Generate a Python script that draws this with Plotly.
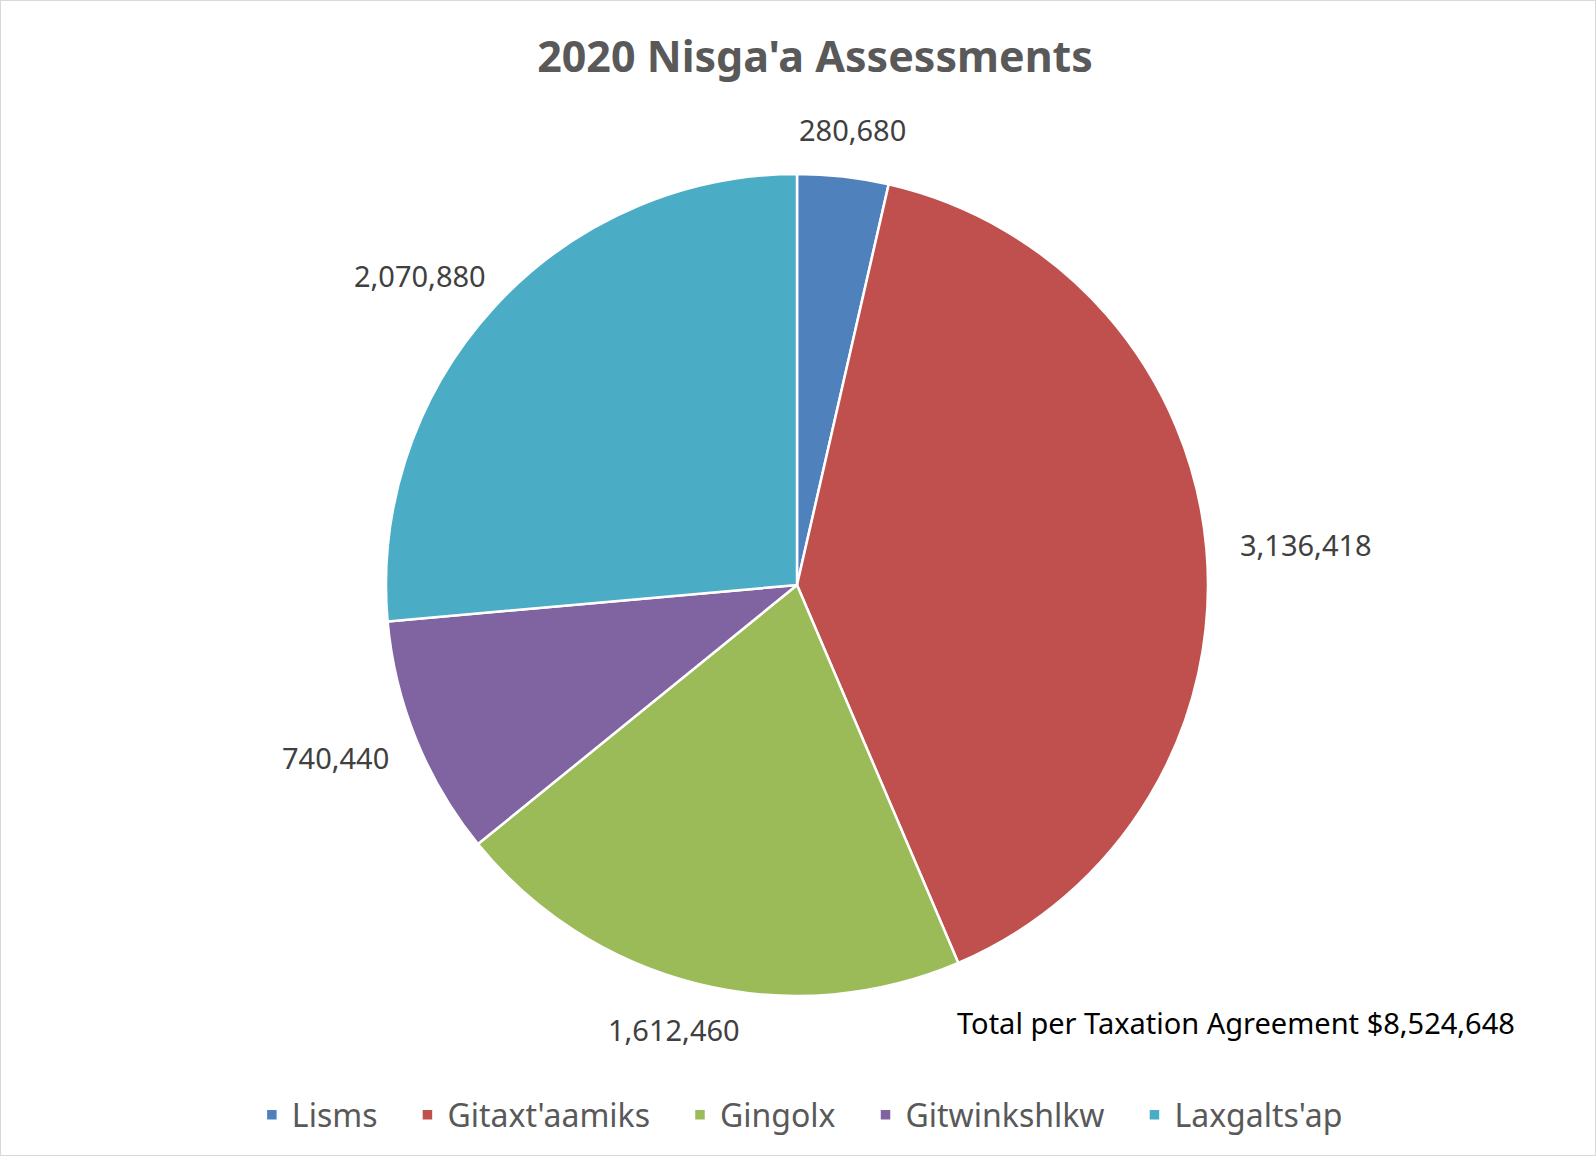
import math
import plotly.graph_objects as go

communities = ["Lisms", "Gitaxt'aamiks", "Gingolx", "Gitwinkshlkw", "Laxgalts'ap"]
assessments = [280680, 3136418, 1612460, 740440, 2070880]
colors = ["#4F81BD", "#C0504D", "#9BBB59", "#8064A2", "#4BACC6"]
title_text = "2020 Nisga'a Assessments"
total_note = "Total per Taxation Agreement $8,524,648"

W, H = 1596, 1156
cx, cy, r = 797, 585, 411
label_size = 29
gap = 34
legend_pad = "&nbsp;" * 3

fig = go.Figure(go.Pie(
    labels=[c + legend_pad for c in communities],
    values=assessments,
    customdata=communities,
    sort=False,
    direction="clockwise",
    rotation=0,
    marker=dict(colors=colors, line=dict(color="white", width=2.5)),
    textinfo="none",
    domain=dict(x=[(cx - r) / W, (cx + r) / W], y=[1 - (cy + r) / H, 1 - (cy - r) / H]),
    hovertemplate="%{customdata}<br>%{value:,}<br>%{percent}<extra></extra>",
))

# data labels placed outside each slice, at the slice's mid-angle
annotations = []
total = sum(assessments)
cum = 0
for v in assessments:
    mid = (cum + v / 2) / total * 2 * math.pi
    cum += v
    ux, uy = math.sin(mid), -math.cos(mid)
    txt = f"{v:,}"
    w = sum(0.26 if ch == "," else 0.572 for ch in txt) * label_size
    h = 26
    px = cx + (r + gap) * ux + w / 2 * ux
    py = cy + (r + gap) * uy + h / 2 * uy
    annotations.append(dict(text=txt, x=px / W, y=1 - py / H, xref="paper", yref="paper",
                            showarrow=False, xanchor="center", yanchor="middle",
                            font=dict(family="Noto Sans", size=label_size, color="#404040")))

annotations.append(dict(text=total_note, x=1236 / W, y=1 - 1022 / H, xref="paper", yref="paper",
                        showarrow=False, xanchor="center", yanchor="middle",
                        font=dict(family="Noto Sans", size=29, color="black")))

fig.update_layout(
    width=W, height=H,
    margin=dict(l=0, r=0, t=0, b=0),
    paper_bgcolor="white",
    title=dict(text="<b>" + title_text + "</b>", x=815 / W, xanchor="center", y=1 - 57 / H, yanchor="middle",
               font=dict(family="Noto Sans", size=43, color="#595959")),
    legend=dict(orientation="h", x=0.509, xanchor="center", y=1 - 1115 / H, yanchor="middle",
                font=dict(family="Noto Sans", size=32, color="#595959"), itemwidth=30,
                traceorder="normal"),
    annotations=annotations,
    shapes=[dict(type="rect", xref="paper", yref="paper", x0=0, y0=0, x1=1, y1=1,
                 line=dict(color="#D9D9D9", width=2), fillcolor="rgba(0,0,0,0)")],
)

fig.write_html("out.html")
